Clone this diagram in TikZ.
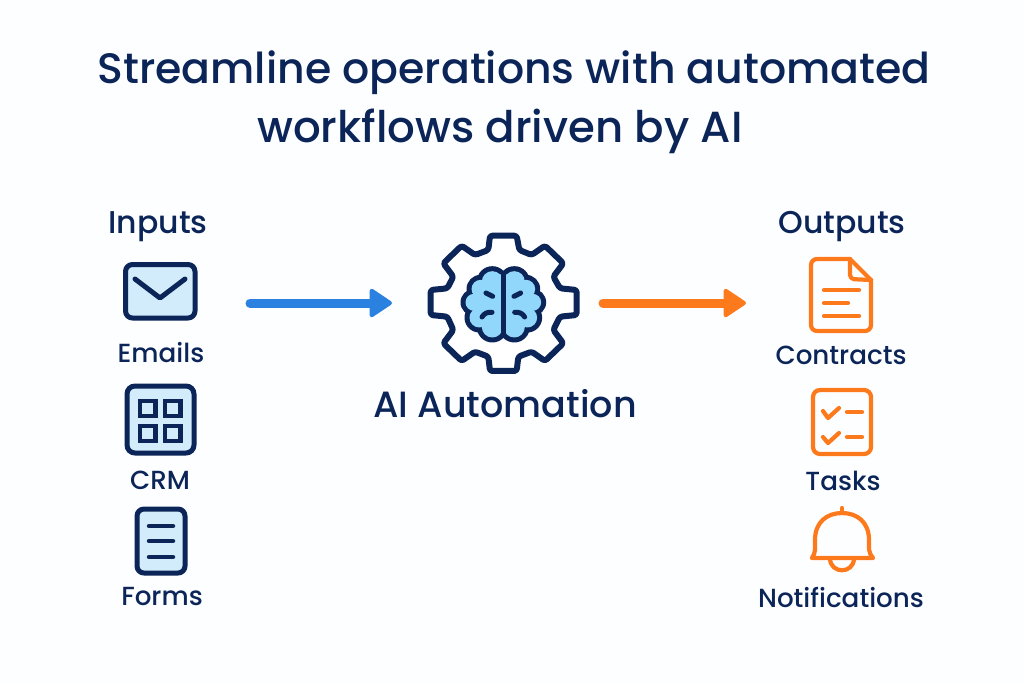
\documentclass[tikz,border=0pt]{standalone}
\usepackage{fontspec}
\setmainfont{Poppins}[UprightFont=*-Medium]
\usetikzlibrary{arrows.meta}
\definecolor{navy}{HTML}{0B2559}
\definecolor{brainblue}{HTML}{90D7FB}
\definecolor{iconfill}{HTML}{D3ECFB}
\definecolor{orng}{HTML}{FD7A1C}
\definecolor{flowblue}{HTML}{2B81E0}
\definecolor{bg}{HTML}{FDFEFF}
\tikzset{
  titletext/.style={text=navy,font=\fontsize{42.6}{42.6}\selectfont,inner sep=0pt,anchor=center},
  titletextb/.style={text=navy,font=\fontsize{43.5}{43.5}\selectfont,inner sep=0pt,anchor=center},
  headtext/.style={text=navy,font=\fontsize{31.5}{31.5}\selectfont,inner sep=0pt,anchor=center},
  labeltext/.style={text=navy,font=\fontsize{26.2}{26.2}\selectfont,inner sep=0pt,anchor=center},
  hubtext/.style={text=navy,font=\fontsize{36.5}{36.5}\selectfont,inner sep=0pt,anchor=center},
  navyicon/.style={draw=navy,line width=5pt,line cap=round,line join=round},
  orangeicon/.style={draw=orng,line width=4.2pt,line cap=round,line join=round},
  flow/.style={line width=9pt,line cap=round},
}
\begin{document}
\begin{tikzpicture}[x=1pt,y=-1pt]
\useasboundingbox (0,0) rectangle (1024,683);
\fill[bg] (0,0) rectangle (1024,683);
% title
\node[titletext] (title1) at (514,73) {Streamline operations with automated};
\node[titletextb] (title2) at (500,131) {workflows driven by AI};
% headings and labels
\node[headtext] (inputs) at (158,227) {Inputs};
\node[headtext] (outputs) at (842,227) {Outputs};
\node[labeltext] (emails) at (161,353) {Emails};
\node[labeltext] (crm) at (160,480) {CRM};
\node[labeltext] (forms) at (162,597) {Forms};
\node[labeltext] (contracts) at (841,355) {Contracts};
\node[labeltext] (tasks) at (843,481) {Tasks};
\node[labeltext] (notifications) at (841,597) {Notifications};
\node[hubtext] (hub) at (505,404) {AI Automation};
% connectors
\coordinate (a1) at (250,303);
\coordinate (a2) at (392,303);
\coordinate (b1) at (603,303);
\coordinate (b2) at (746,303);
\draw[flow,flowblue,-{Triangle[length=24pt,width=31pt,line width=4pt,round]}] (a1) -- (a2);
\draw[flow,orng,-{Triangle[length=24pt,width=31pt,line width=4pt,round]}] (b1) -- (b2);
% emails icon
\draw[navyicon,fill=iconfill,rounded corners=7pt] (125.5,264.5) rectangle (195,318);
\draw[navyicon] (135,279) -- (160,298) -- (185,279);
% crm icon
\draw[navyicon,fill=iconfill,rounded corners=8pt] (127,386) rectangle (194,453);
\foreach \x/\y in {140/401,165/401,140/426,165/426}
  \draw[draw=navy,line width=4.5pt] (\x,\y) rectangle ++(15.5,15);
% forms icon
\draw[navyicon,fill=iconfill,rounded corners=7pt] (137,509) rectangle (185,573);
\foreach \y in {526,541,557}
  \draw[navyicon,line width=4.5pt] (149,\y) -- (173,\y);
% gear
\begin{scope}[shift={(420,225)},x=0.3333pt,y=-0.3333pt]
  \draw[navy,line width=6pt,line join=round,rounded corners=2.5pt,fill=white]
    (210,32)--(290,32)--(298,75)--(335,90)--(375,62)--(430,115)--(400,155)--(420,190)
    --(470,195)--(470,270)--(420,275)--(400,315)--(430,355)--(375,408)--(335,380)
    --(295,395)--(290,438)--(210,438)--(205,395)--(165,380)--(125,408)--(70,355)
    --(100,315)--(82,275)--(32,270)--(32,195)--(82,190)--(100,155)--(70,115)
    --(125,62)--(165,90)--(205,75)--cycle;
  \foreach \cx/\cy/\r in {283/170/30,318/192/26,338/232/24,322/278/28,283/306/30,
                          217/170/30,182/192/26,162/232/24,178/278/28,217/306/30}
    \fill[navy] (\cx,\cy) circle[radius=\r*0.3333pt+5.5pt];
  \foreach \cx/\cy/\r in {283/170/30,318/192/26,338/232/24,322/278/28,283/306/30,
                          217/170/30,182/192/26,162/232/24,178/278/28,217/306/30}
    \fill[brainblue] (\cx,\cy) circle[radius=\r*0.3333pt+0.5pt];
  \fill[brainblue] (250,232) ellipse[x radius=30pt,y radius=28pt];
  \draw[navy,line width=5.5pt] (250,138) -- (250,336);
  \draw[navy,line width=5pt,line cap=round]
    (282,214)--(302,204) (218,214)--(198,204)
    (284,262) .. controls (298,260) and (308,266) .. (314,276)
    (216,262) .. controls (202,260) and (192,266) .. (186,276);
\end{scope}
% contracts icon
\draw[orangeicon,rounded corners=6pt] (850,259) -- (811,259) -- (811,331) -- (871,331) -- (871,280);
\draw[orangeicon,line join=round] (850,259) -- (871,280);
\draw[orangeicon,rounded corners=4pt] (850,259) -- (850,279) -- (871,280);
\foreach \y/\e in {290/859,303/848,316/859}
  \draw[orangeicon] (824,\y) -- (\e,\y);
% tasks icon
\draw[orangeicon,rounded corners=7pt] (813,390) rectangle (871,454);
\draw[orangeicon] (823,411) -- (828,418) -- (839,408);
\draw[orangeicon] (823,437) -- (828,443) -- (839,433);
\draw[orangeicon] (847,412) -- (862,412);
\draw[orangeicon] (847,437) -- (862,437);
% bell icon
\draw[orangeicon] (842,508) -- (842,513);
\draw[orangeicon] (812,558) -- (873,558)
  .. controls (868,552) and (869,548) .. (869,540)
  .. controls (869,522) and (857,513) .. (842,513)
  .. controls (827,513) and (815,522) .. (815,540)
  .. controls (815,548) and (816,552) .. (812,558) -- cycle;
\draw[orangeicon] (830,559) .. controls (831,574) and (853,574) .. (854,559);
\end{tikzpicture}
\end{document}
